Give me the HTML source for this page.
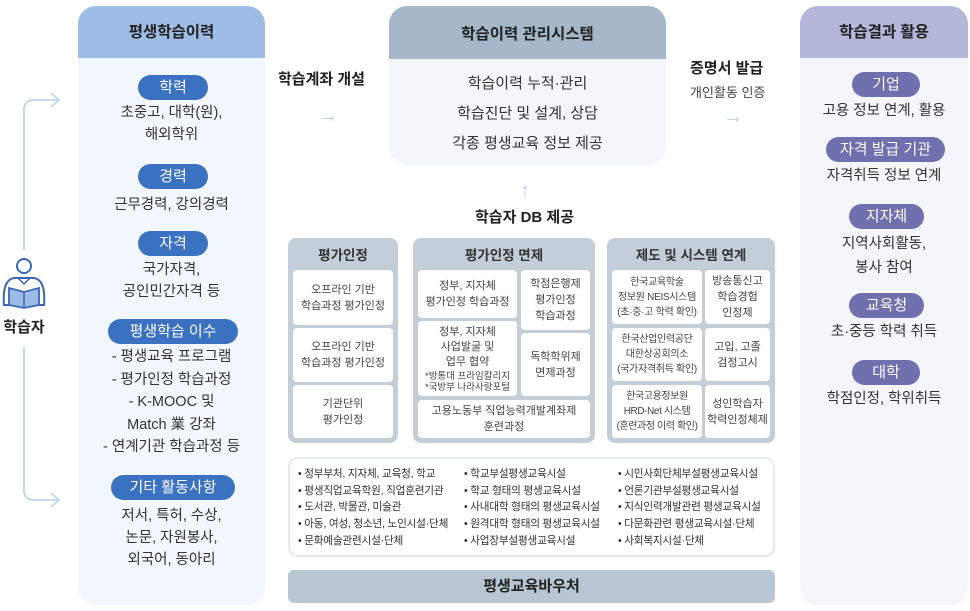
<!DOCTYPE html>
<html><head><meta charset="utf-8"><style>
*{margin:0;padding:0;box-sizing:border-box}
body{width:970px;height:611px;background:#fff;font-family:"Liberation Sans","Noto Sans CJK KR",sans-serif;color:#333;position:relative;overflow:hidden}
.a{position:absolute}
.pill{position:absolute;color:#fff;font-size:15px;border-radius:13px;height:25px;line-height:25px;text-align:center}
.bp{background:#3a72c1}
.pp{background:#6f70ad}
.t{position:absolute;left:0;width:100%;text-align:center;font-size:14.5px;line-height:22px;color:#333}
.g{position:absolute;background:#c3ced9;border-radius:8px}
.w{position:absolute;background:#fff;border-radius:4px;font-size:11px;line-height:16px;color:#444;display:flex;align-items:center;justify-content:center;text-align:center}
.gh{position:absolute;left:0;width:100%;top:6px;text-align:center;font-size:13.5px;font-weight:bold;color:#333}
.arr{position:absolute;color:#b9cfe9;font-size:20px}
.li{font-size:10.6px;line-height:16.7px;color:#333;letter-spacing:-0.2px}
</style></head><body>

<svg class="a" style="left:0;top:0" width="80" height="611">
<path d="M24 250 V110 Q24 100 34 100 H58" stroke="#c8d8f0" stroke-width="2" fill="none"/>
<path d="M51 93 L59 100 L51 107" stroke="#c8d8f0" stroke-width="2" fill="none"/>
<path d="M24 347 V490 Q24 500 34 500 H58" stroke="#c8d8f0" stroke-width="2" fill="none"/>
<path d="M51 493 L59 500 L51 507" stroke="#c8d8f0" stroke-width="2" fill="none"/>
<circle cx="24" cy="266" r="7" fill="none" stroke="#3a67b5" stroke-width="2"/>
<path d="M4 305 Q2 280 14 278 L34 278 Q46 280 44 305 Z" fill="none" stroke="#3a67b5" stroke-width="2"/>
<path d="M9 288 L24 292 L39 288 L39 305 L24 308 L9 305 Z" fill="#9dbbe6" stroke="#3a67b5" stroke-width="1.8"/>
<line x1="24" y1="292" x2="24" y2="308" stroke="#3a67b5" stroke-width="1.5"/>
<path d="M18 278 L24 284 L30 278" fill="none" stroke="#3a67b5" stroke-width="1.5"/>
</svg>
<div class="a" style="left:2px;top:316px;width:44px;text-align:center;font-size:15px;font-weight:bold;color:#222">학습자</div>

<div class="a" style="left:78px;top:6px;width:187px;height:599px;background:#f2f7fd;border-radius:18px;overflow:hidden">
<div style="height:52px;background:#9dbde6;text-align:center;line-height:54px;font-weight:bold;font-size:15.5px;color:#222">평생학습이력</div>
<div class="pill bp" style="left:60px;top:69px;width:70px">학력</div>
<div class="t" style="top:96px">초중고, 대학(원),<br>해외학위</div>
<div class="pill bp" style="left:60px;top:158px;width:70px">경력</div>
<div class="t" style="top:188px">근무경력, 강의경력</div>
<div class="pill bp" style="left:60px;top:225px;width:70px">자격</div>
<div class="t" style="top:253px">국가자격,<br>공인민간자격 등</div>
<div class="pill bp" style="left:30px;top:313px;width:130px">평생학습 이수</div>
<div class="t" style="top:340px;line-height:22.5px">- 평생교육 프로그램<br>- 평가인정 학습과정<br>- K-MOOC 및<br>Match 業 강좌<br>- 연계기관 학습과정 등</div>
<div class="pill bp" style="left:33px;top:469px;width:124px">기타 활동사항</div>
<div class="t" style="top:499px">저서, 특허, 수상,<br>논문, 자원봉사,<br>외국어, 동아리</div>
</div>

<div class="a" style="left:278px;top:68px;font-size:15px;font-weight:bold;color:#222">학습계좌 개설</div>
<div class="arr" style="left:318px;top:105px">→</div>
<div class="a" style="left:389px;top:6px;width:277px;height:159px;background:#f3f6fa;border-radius:18px;overflow:hidden">
<div style="height:53px;background:#a5b7c8;text-align:center;line-height:58px;font-weight:bold;font-size:15.5px;color:#222">학습이력 관리시스템</div>
<div class="t" style="top:63px;line-height:30px;font-size:15px">학습이력 누적·관리<br>학습진단 및 설계, 상담<br>각종 평생교육 정보 제공</div>
</div>
<div class="a" style="left:690px;top:57px;font-size:15px;font-weight:bold;color:#222">증명서 발급</div>
<div class="a" style="left:690px;top:82px;font-size:13px;color:#444">개인활동 인증</div>
<div class="arr" style="left:723px;top:106px">→</div>
<div class="arr" style="left:520px;top:180px">↑</div>
<div class="a" style="left:475px;top:206px;font-size:15px;font-weight:bold;color:#222">학습자 DB 제공</div>

<div class="g" style="left:288px;top:238px;width:110px;height:205px"><div class="gh">평가인정</div></div>
<div class="w" style="left:293px;top:270px;width:100px;height:55px">오프라인 기반<br>학습과정 평가인정</div>
<div class="w" style="left:293px;top:328px;width:100px;height:54px">오프라인 기반<br>학습과정 평가인정</div>
<div class="w" style="left:293px;top:385px;width:100px;height:53px">기관단위<br>평가인정</div>

<div class="g" style="left:413px;top:238px;width:182px;height:205px"><div class="gh">평가인정 면제</div></div>
<div class="w" style="left:418px;top:270px;width:99px;height:48px">정부, 지자체<br>평가인정 학습과정</div>
<div class="w" style="left:418px;top:321px;width:99px;height:75px;flex-direction:column;line-height:15px">정부, 지자체<br>사업발굴 및<br>업무 협약<span style="font-size:9.5px;line-height:11px;margin-top:1px">*방통대 프라임칼리지<br>*국방부 나라사랑포털</span></div>
<div class="w" style="left:521px;top:270px;width:69px;height:60px">학점은행제<br>평가인정<br>학습과정</div>
<div class="w" style="left:521px;top:333px;width:69px;height:63px">독학학위제<br>면제과정</div>
<div class="w" style="left:418px;top:400px;width:172px;height:38px">고용노동부 직업능력개발계좌제<br>훈련과정</div>

<div class="g" style="left:607px;top:238px;width:168px;height:205px"><div class="gh">제도 및 시스템 연계</div></div>
<div class="w" style="left:612px;top:270px;width:90px;height:54px;font-size:10px;line-height:15px;letter-spacing:-0.3px">한국교육학술<br>정보원 NEIS시스템<br>(초·중·고 학력 확인)</div>
<div class="w" style="left:705px;top:270px;width:65px;height:54px">방송통신고<br>학습경험<br>인정제</div>
<div class="w" style="left:612px;top:328px;width:90px;height:53px;font-size:10px;line-height:15px;letter-spacing:-0.3px">한국산업인력공단<br>대한상공회의소<br>(국가자격취득 확인)</div>
<div class="w" style="left:705px;top:328px;width:65px;height:53px">고입, 고졸<br>검정고시</div>
<div class="w" style="left:612px;top:385px;width:90px;height:53px;font-size:10px;line-height:15px;letter-spacing:-0.4px;white-space:nowrap">한국고용정보원<br>HRD-Net 시스템<br>(훈련과정 이력 확인)</div>
<div class="w" style="left:705px;top:385px;width:65px;height:53px">성인학습자<br>학력인정체제</div>

<div class="a" style="left:288px;top:457px;width:487px;height:100px;border:2px solid #e3eaf2;border-radius:10px;background:#fff"></div>
<div class="a li" style="left:298px;top:466px">• 정부부처, 지자체, 교육청, 학교<br>• 평생직업교육학원, 직업훈련기관<br>• 도서관, 박물관, 미술관<br>• 아동, 여성, 청소년, 노인시설·단체<br>• 문화예술관련시설·단체</div>
<div class="a li" style="left:464px;top:466px">• 학교부설평생교육시설<br>• 학교 형태의 평생교육시설<br>• 사내대학 형태의 평생교육시설<br>• 원격대학 형태의 평생교육시설<br>• 사업장부설평생교육시설</div>
<div class="a li" style="left:618px;top:466px">• 시민사회단체부설평생교육시설<br>• 언론기관부설평생교육시설<br>• 지식인력개발관련 평생교육시설<br>• 다문화관련 평생교육시설·단체<br>• 사회복지시설·단체</div>

<div class="a" style="left:288px;top:570px;width:487px;height:33px;background:#b8c6d4;border-radius:6px;text-align:center;line-height:33px;font-weight:bold;font-size:15px;color:#222">평생교육바우처</div>

<div class="a" style="left:800px;top:6px;width:168px;height:599px;background:#f5f6fb;border-radius:18px;overflow:hidden">
<div style="height:52px;background:#b4b7da;text-align:center;line-height:54px;font-weight:bold;font-size:15.5px;color:#222">학습결과 활용</div>
<div class="pill pp" style="left:52px;top:66px;width:68px">기업</div>
<div class="t" style="top:94px">고용 정보 연계, 활용</div>
<div class="pill pp" style="left:26px;top:131px;width:119px">자격 발급 기관</div>
<div class="t" style="top:159px">자격취득 정보 연계</div>
<div class="pill pp" style="left:49px;top:198px;width:75px">지자체</div>
<div class="t" style="top:226px;line-height:24px">지역사회활동,<br>봉사 참여</div>
<div class="pill pp" style="left:49px;top:287px;width:75px">교육청</div>
<div class="t" style="top:315px">초·중등 학력 취득</div>
<div class="pill pp" style="left:52px;top:354px;width:68px">대학</div>
<div class="t" style="top:382px">학점인정, 학위취득</div>
</div>

</body></html>
